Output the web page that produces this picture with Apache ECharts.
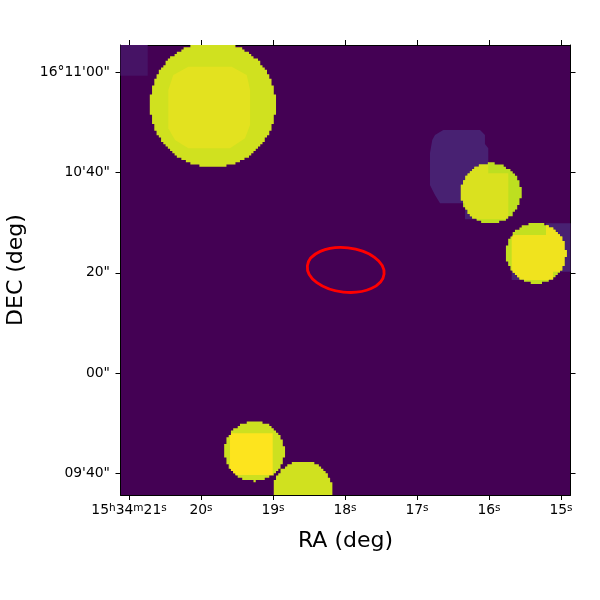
<!DOCTYPE html>
<html>
<head>
<meta charset="utf-8">
<style>html,body{margin:0;padding:0;background:#fff}#c{width:600px;height:600px}</style>
<script src="https://cdn.jsdelivr.net/npm/echarts@6/dist/echarts.min.js"></script>
</head>
<body>
<div id="c"></div>
<script>
// Axes: RA in seconds past 15h34m, DEC in arcsec relative to 16d10'00"
const raTicks = [21, 20, 19, 18, 17, 16, 15];
const raTickLabels = ['{n|15}{s|h}{n|34}{s|m}{n|21}{s|s}', '{n|20}{s|s}', '{n|19}{s|s}', '{n|18}{s|s}', '{n|17}{s|s}', '{n|16}{s|s}', '{n|15}{s|s}'];
const decTicks = [60, 40, 20, 0, -20];
const decTickLabels = ['16°11\'00"', '10\'40"', '20"', '00"', '09\'40"'];
const raRange = [14.868, 21.118];
const decRange = [-24.35, 65.49];
const imagePixelArcsec = 0.45;

// Round sources (centre RA, centre DEC, radius in arcsec, image value 0..1)
const circleRa = [19.835, 15.972, 15.347, 19.258, 18.587];
const circleDec = [53.63, 35.89, 23.91, -15.61, -23.53];
const circleRadius = [12.55, 6.0, 5.98, 5.98, 5.96];
const circleValue = [0.93, 0.90, 0.91, 0.925, 0.93];

// Faint background patches: [RA, DEC] outlines
const patchOutlines = [
  [[21.118, 65.49], [20.74, 65.49], [20.74, 59.36], [21.118, 59.36]],
  [[16.75, 47.525], [16.635, 48.52], [16.125, 48.52], [16.056, 47.525], [16.056, 45.73], [16.01, 44.87], [16.01, 39.88], [15.732, 39.88], [15.732, 30.70], [16.333, 30.70], [16.333, 33.89], [16.68, 33.89], [16.75, 35.55], [16.82, 37.54], [16.82, 43.87], [16.788, 46.53]],
  [[15.208, 29.90], [14.868, 29.90], [14.868, 20.24], [15.111, 20.24], [15.111, 18.58], [15.685, 18.58], [15.685, 27.565], [15.208, 27.565]]
];
const patchValue = [0.05, 0.09, 0.09];

// Brighter overlap areas: index of the round source, outline, value
const overlapCircle = [0, 1, 2, 3];
const overlapOutlines = [
  [[20.454, 56.51], [20.385, 59.50], [20.176, 61.16], [19.574, 61.16], [19.365, 59.50], [19.319, 56.51], [19.319, 49.52], [19.389, 46.87], [19.597, 44.87], [20.176, 44.87], [20.361, 46.53], [20.454, 48.86]],
  patchOutlines[1],
  patchOutlines[2],
  [[19.597, -12.02], [19.004, -12.02], [19.004, -20.34], [19.597, -20.34]]
];
const overlapValue = [0.96, 0.945, 0.98, 1.0];

// Red region ellipse
const ellipseCentre = [17.99, 20.58];
const ellipseSemiAxes = [7.7, 4.44];
const ellipseTiltDeg = 6.2;

const viridisStops = ['#440154', '#482475', '#414487', '#355f8d', '#2a788e', '#21918c', '#22a884', '#44bf70', '#7ad151', '#bddf20', '#fde41e'];
const fill = v => echarts.color.lerp(v, viridisStops);

const font = '"DejaVu Sans"';
const chart = echarts.init(document.getElementById('c'), null, {renderer: 'canvas'});

function outline(api, pts) { return pts.map(p => api.coord(p)); }

// Outline of a round source as the image pixels it covers (the image is a raster)
function pixelDisc(api, k) {
  const c = api.coord([circleRa[k], circleDec[k]]);
  const u = api.size([0, 1])[1];
  const r = circleRadius[k] * u;
  const cell = imagePixelArcsec * u;
  const o = api.coord([raRange[1], decRange[1]]);
  const right = [], left = [];
  const j0 = Math.floor((c[1] - r - o[1]) / cell) - 1;
  const j1 = Math.ceil((c[1] + r - o[1]) / cell) + 1;
  for (let j = j0; j <= j1; j++) {
    const dy = o[1] + (j + 0.5) * cell - c[1];
    if (Math.abs(dy) >= r) continue;
    const h = Math.sqrt(r * r - dy * dy);
    const a = Math.ceil((c[0] - h - o[0]) / cell - 0.5);
    const b = Math.floor((c[0] + h - o[0]) / cell - 0.5);
    const y0 = o[1] + j * cell, y1 = y0 + cell;
    right.push([o[0] + (b + 1) * cell, y0], [o[0] + (b + 1) * cell, y1]);
    left.unshift([o[0] + a * cell, y1], [o[0] + a * cell, y0]);
  }
  return right.concat(left);
}

const baseAxis = {
  scale: true,
  splitLine: {show: false},
  axisLine: {show: true, onZero: false, lineStyle: {color: '#000', width: 1}}
};
const mute = {axisLabel: {show: false}};

chart.setOption({
  animation: false,
  backgroundColor: '#fff',
  grid: {left: 120.5, top: 45, width: 450, height: 450, show: true, backgroundColor: '#440154', borderWidth: 0, outerBoundsMode: 'none'},
  xAxis: [
    Object.assign({}, baseAxis, {
      type: 'value', position: 'bottom', inverse: true, min: raRange[0], max: raRange[1],
      name: 'RA (deg)', nameLocation: 'middle', nameGap: 35,
      nameTextStyle: {fontFamily: font, fontSize: 22, color: '#000'},
      axisTick: {show: true, length: 5, inside: false, customValues: raTicks, lineStyle: {color: '#000', width: 1}},
      axisLabel: {
        show: true, margin: 8, color: '#000', fontFamily: font, fontSize: 13.9,
        customValues: raTicks,
        formatter: v => raTickLabels[raTicks.indexOf(v)],
        rich: {
          n: {fontFamily: font, fontSize: 13.9, color: '#000'},
          s: {fontFamily: font, fontSize: 10.5, color: '#000', verticalAlign: 'top', lineHeight: 14}
        }
      }
    }),
    Object.assign({}, baseAxis, mute, {
      type: 'value', position: 'top', inverse: true, min: raRange[0], max: raRange[1],
      axisTick: {show: true, length: 5, customValues: raTicks, lineStyle: {color: '#000', width: 1}}
    })
  ],
  yAxis: [
    Object.assign({}, baseAxis, {
      type: 'value', position: 'left', min: decRange[0], max: decRange[1],
      name: 'DEC (deg)', nameLocation: 'middle', nameGap: 93,
      nameTextStyle: {fontFamily: font, fontSize: 22, color: '#000'},
      axisTick: {show: true, length: 5, customValues: decTicks, lineStyle: {color: '#000', width: 1}},
      axisLabel: {
        show: true, margin: 10.5, color: '#000', fontFamily: font, fontSize: 13.9, padding: [4, 0, 0, 0],
        customValues: decTicks,
        formatter: v => decTickLabels[decTicks.indexOf(v)]
      }
    }),
    Object.assign({}, baseAxis, mute, {
      type: 'value', position: 'right', min: decRange[0], max: decRange[1],
      axisTick: {show: true, length: 5, customValues: decTicks, lineStyle: {color: '#000', width: 1}}
    })
  ],
  series: [
    {
      type: 'custom', name: 'patches', coordinateSystem: 'cartesian2d', clip: true, silent: true, z: 1,
      data: patchValue.map((v, i) => [i, v]),
      encode: {x: [], y: []},
      renderItem: (params, api) => ({
        type: 'polygon',
        shape: {points: outline(api, patchOutlines[api.value(0)])},
        style: {fill: fill(api.value(1)), stroke: null}
      })
    },
    {
      type: 'custom', name: 'sources', coordinateSystem: 'cartesian2d', clip: true, silent: true, z: 2,
      data: circleValue.map((v, i) => [i, v]),
      encode: {x: [], y: []},
      renderItem: (params, api) => ({
        type: 'polygon',
        shape: {points: pixelDisc(api, api.value(0))},
        style: {fill: fill(api.value(1)), stroke: null}
      })
    },
    {
      type: 'custom', name: 'overlaps', coordinateSystem: 'cartesian2d', clip: true, silent: true, z: 3,
      data: overlapValue.map((v, i) => [i, v]),
      encode: {x: [], y: []},
      renderItem: (params, api) => {
        const i = api.value(0);
        return {
          type: 'polygon',
          shape: {points: outline(api, overlapOutlines[i])},
          style: {fill: fill(api.value(1)), stroke: null},
          clipPath: {type: 'polygon', shape: {points: pixelDisc(api, overlapCircle[i])}}
        };
      }
    },
    {
      type: 'custom', name: 'region', coordinateSystem: 'cartesian2d', clip: true, silent: true, z: 4,
      data: [[ellipseCentre[0], ellipseCentre[1], ellipseSemiAxes[0], ellipseSemiAxes[1], ellipseTiltDeg]],
      encode: {x: 0, y: 1},
      renderItem: (params, api) => {
        const c = api.coord([api.value(0), api.value(1)]);
        const u = api.size([0, 1])[1];
        return {
          type: 'ellipse',
          shape: {cx: 0, cy: 0, rx: api.value(2) * u, ry: api.value(3) * u},
          x: c[0], y: c[1], rotation: -api.value(4) * Math.PI / 180,
          style: {fill: null, stroke: '#ff0000', lineWidth: 2.8}
        };
      }
    }
  ]
});
</script>
</body>
</html>
